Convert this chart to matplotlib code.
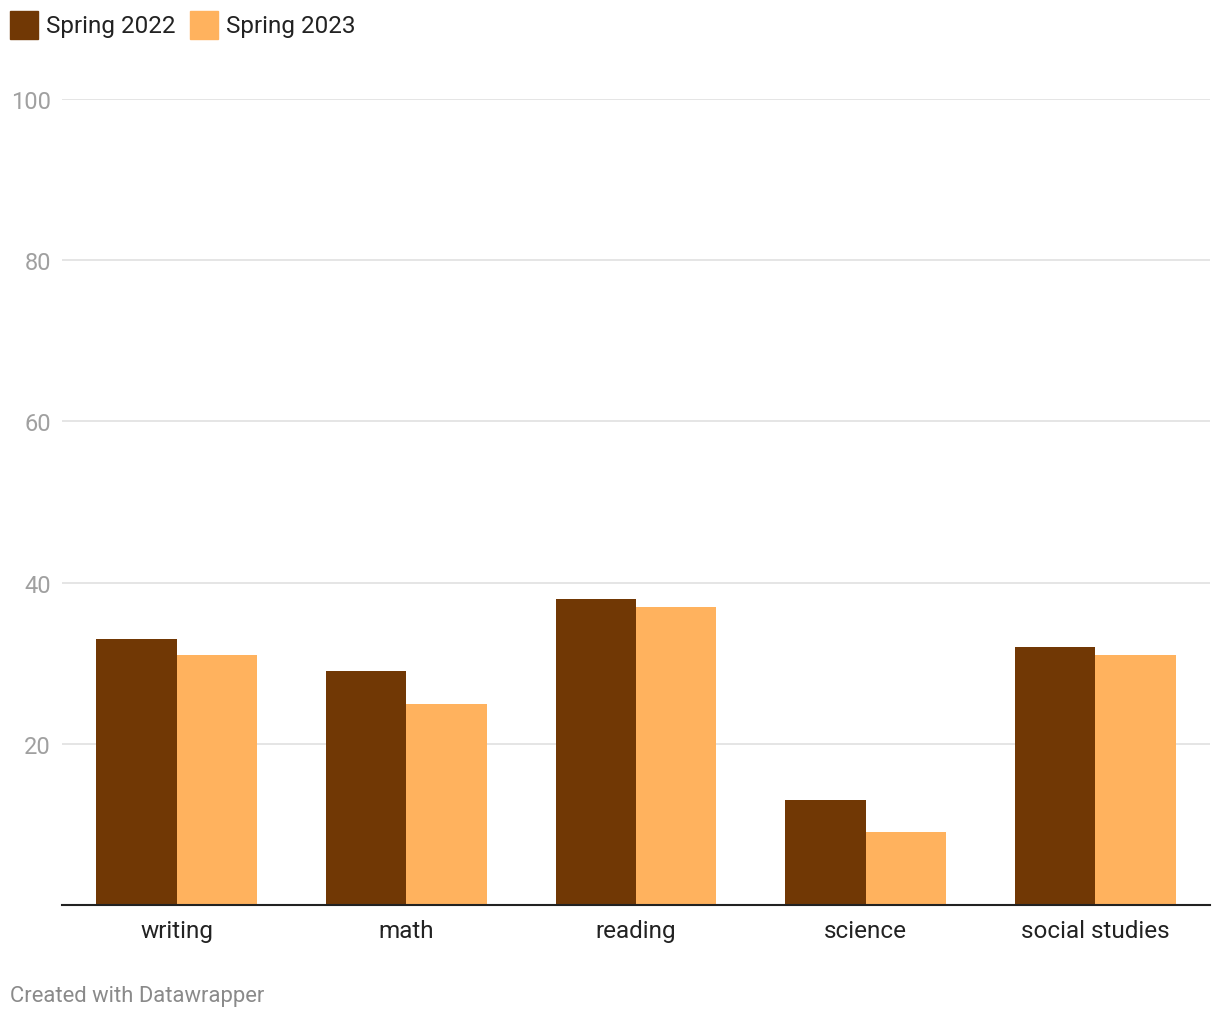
import matplotlib
matplotlib.use("Agg")
import matplotlib.pyplot as plt
from matplotlib.patches import Rectangle
import numpy as np

plt.rcParams["font.family"] = ["Roboto", "DejaVu Sans"]

categories = ["writing", "math", "reading", "science", "social studies"]
series_names = ["Spring 2022", "Spring 2023"]
spring_2022 = [33, 29, 38, 13, 32]
spring_2023 = [31, 25, 37, 9, 31]
y_ticks = [20, 40, 60, 80, 100]

colors = ["#713805", "#ffb25e"]

W, H = 1220, 1020
fig = plt.figure(figsize=(W / 100, H / 100), dpi=100)
ax = fig.add_axes([62 / W, 1 - 906 / H, (1210 - 62) / W, (906 - 100) / H])

x = np.arange(len(categories))
bw = 0.35
ax.bar(x - bw / 2, spring_2022, width=bw, color=colors[0], zorder=3)
ax.bar(x + bw / 2, spring_2023, width=bw, color=colors[1], zorder=3)

ax.set_xlim(-0.5, len(categories) - 0.5)
ax.set_ylim(0, 100)
ax.set_yticks(y_ticks)
ax.set_yticklabels([str(t) for t in y_ticks])
ax.grid(axis="y", color="#e5e5e5", linewidth=1.4, zorder=0)
ax.tick_params(axis="y", length=0, pad=8, labelsize=17, labelcolor="#a0a0a0")
ax.set_xticks(x)
ax.set_xticklabels(categories)
ax.tick_params(axis="x", length=0, pad=10, labelsize=17.5, labelcolor="#222222")

for s in ["top", "right", "left"]:
    ax.spines[s].set_visible(False)
ax.spines["bottom"].set_color("#222222")
ax.spines["bottom"].set_linewidth(1.5)
ax.spines["bottom"].set_zorder(4)

# legend
leg_x = [10, 190]
for lx, name, c in zip(leg_x, series_names, colors):
    fig.patches.append(Rectangle((lx / W, 1 - 40 / H), 28 / W, 28 / H,
                                 transform=fig.transFigure, color=c))
    fig.text((lx + 36) / W, 1 - 26 / H, name, fontsize=17.5, color="#222222",
             va="center", ha="left")

fig.text(10 / W, 1 - 997 / H, "Created with Datawrapper", fontsize=15.8,
         color="#8a8a8a", va="center", ha="left")

fig.savefig("out.png", dpi=100)
